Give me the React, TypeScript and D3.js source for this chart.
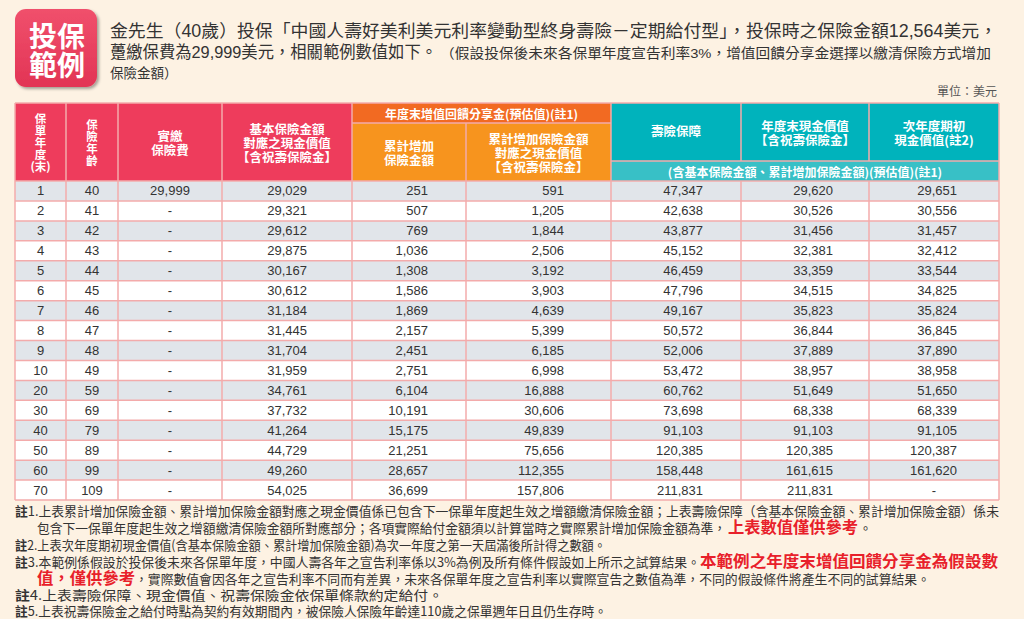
import React from "react";
import * as d3 from "d3";

// ---------- data ----------
const policyYears = [1, 2, 3, 4, 5, 6, 7, 8, 9, 10, 20, 30, 40, 50, 60, 70];
const ages = [40, 41, 42, 43, 44, 45, 46, 47, 48, 49, 59, 69, 79, 89, 99, 109];
const premiums: (number | null)[] = [29999, null, null, null, null, null, null, null, null, null, null, null, null, null, null, null];
const basicCashValue = [29029, 29321, 29612, 29875, 30167, 30612, 31184, 31445, 31704, 31959, 34761, 37732, 41264, 44729, 49260, 54025];
const accumAddSum = [251, 507, 769, 1036, 1308, 1586, 1869, 2157, 2451, 2751, 6104, 10191, 15175, 21251, 28657, 36699];
const accumAddCashValue = [591, 1205, 1844, 2506, 3192, 3903, 4639, 5399, 6185, 6998, 16888, 30606, 49839, 75656, 112355, 157806];
const deathBenefit = [47347, 42638, 43877, 45152, 46459, 47796, 49167, 50572, 52006, 53472, 60762, 73698, 91103, 120385, 158448, 211831];
const cashValueEnd = [29620, 30526, 31456, 32381, 33359, 34515, 35823, 36844, 37889, 38957, 51649, 68338, 91103, 120385, 161615, 211831];
const cashValueNext: (number | null)[] = [29651, 30556, 31457, 32412, 33544, 34825, 35824, 36845, 37890, 38958, 51650, 68339, 91105, 120387, 161620, null];

const columns: (number | null)[][] = [
  policyYears, ages, premiums, basicCashValue, accumAddSum, accumAddCashValue,
  deathBenefit, cashValueEnd, cashValueNext,
];
const headerLabels: string[][] = [
  ["保", "單", "年", "度", "(末)"],
  ["保", "險", "年", "齡"],
  ["實繳", "保險費"],
  ["基本保險金額", "對應之現金價值", "【含祝壽保險金】"],
  ["累計增加", "保險金額"],
  ["累計增加保險金額", "對應之現金價值", "【含祝壽保險金】"],
  ["壽險保障"],
  ["年度末現金價值", "【含祝壽保險金】"],
  ["次年度期初", "現金價值(註2)"],
];
const groupOrangeLabel = "年度末增值回饋分享金(預估值)(註1)";
const groupTealLabel = "(含基本保險金額、累計增加保險金額)(預估值)(註1)";

const titleLine1 = "金先生（40歲）投保「中國人壽好美利美元利率變動型終身壽險－定期給付型」，投保時之保險金額12,564美元，";
const titleLine2a = "躉繳保費為29,999美元，相關範例數值如下。";
const titleLine2b = "（假設投保後未來各保單年度宣告利率3%，增值回饋分享金選擇以繳清保險方式增加";
const titleLine3 = "保險金額）";
const unitLabel = "單位：美元";

// ---------- layout ----------
const W = 1024;
const H = 619;
const colEdges = [15, 66, 118, 222, 352, 466, 611, 741, 869, 999];
const rightPad = [0, 0, 0, 45, 38, 47, 38, 36, 42];
const alignCenter = [true, true, true, false, false, false, false, false, false];
const headTop = 103;
const orangeSplit = 123;
const tealSplit = 161;
const headBottom = 181;
const tableBottom = 500;

const RED = "#EE3C5C";
const ORANGE_DARK = "#F26A22";
const ORANGE = "#F7941E";
const TEAL = "#00B3BC";
const TEAL_LIGHT = "#38C0C6";
const GRID = "#F3ABAB";
const ROW_GRAY = "#E1E5EA";
const BG = "#FDF2E3";
const TXT = "#333";
const NOTE_RED = "#E8202A";

const FONT = "'Liberation Sans', 'Noto Sans CJK TC', sans-serif";
const CJK = "'Noto Sans CJK TC', 'Liberation Sans', sans-serif";

const fmt = d3.format(",");

export default function App() {
  const rowIdx = d3.range(policyYears.length);
  const y = d3.scaleBand<number>().domain(rowIdx).range([headBottom, tableBottom]);
  const colIdx = d3.range(columns.length);
  const xL = (i: number) => colEdges[i];
  const xR = (i: number) => colEdges[i + 1];
  const xC = (i: number) => (colEdges[i] + colEdges[i + 1]) / 2;

  const headerFill = (i: number) => (i <= 3 ? RED : i <= 5 ? ORANGE : TEAL);
  const headerLineY = (i: number, n: number, k: number) => {
    const top = i === 4 || i === 5 ? orangeSplit : headTop;
    const bot = i >= 6 ? tealSplit : headBottom;
    const lh = i <= 1 ? 12.2 : 14;
    const mid = (top + bot) / 2 + (i === 6 ? -2 : 0);
    return mid + (k - (n - 1) / 2) * lh;
  };

  const noteFs = 13;
  return (
    <svg width={W} height={H} style={{ position: "absolute", left: 0, top: 0 }} fontFamily={FONT}>
      <defs>
        <filter id="sh" x="-20%" y="-20%" width="140%" height="140%">
          <feDropShadow dx="2" dy="2" stdDeviation="1.5" floodColor="#000" floodOpacity="0.35" />
        </filter>
        <linearGradient id="ig" x1="0" y1="0" x2="0" y2="1">
          <stop offset="0" stopColor="#F0506C" />
          <stop offset="1" stopColor="#E23455" />
        </linearGradient>
      </defs>
      <rect width={W} height={H} fill={BG} />

      {/* icon */}
      <rect x={15} y={9} width={82} height={78} rx={11} fill="url(#ig)" filter="url(#sh)" />
      <text x={57} y={35} fontSize={28} fontWeight={700} fill="#fff" textAnchor="middle" dominantBaseline="central" fontFamily={CJK}>投保</text>
      <text x={57} y={64} fontSize={28} fontWeight={700} fill="#fff" textAnchor="middle" dominantBaseline="central" fontFamily={CJK}>範例</text>

      {/* title */}
      <g fill={TXT}>
        <text x={110} y={31} fontSize={17.5} dominantBaseline="central" textLength={887} lengthAdjust="spacingAndGlyphs">{titleLine1}</text>
        <text x={110} y={52} fontSize={17} dominantBaseline="central" textLength={327} lengthAdjust="spacingAndGlyphs">{titleLine2a}</text>
        <text x={440} y={53} fontSize={13.5} dominantBaseline="central" textLength={551} lengthAdjust="spacingAndGlyphs">{titleLine2b}</text>
        <text x={110} y={73} fontSize={13.5} dominantBaseline="central">{titleLine3}</text>
        <text x={997} y={92} fontSize={12} fill="#555" textAnchor="end" dominantBaseline="central">{unitLabel}</text>
      </g>

      {/* header backgrounds */}
      {colIdx.map((i) => (
        <rect key={"hb" + i} x={xL(i)} y={headTop} width={xR(i) - xL(i)} height={headBottom - headTop} fill={headerFill(i)} />
      ))}
      <rect x={xL(4)} y={headTop} width={xR(5) - xL(4)} height={orangeSplit - headTop} fill={ORANGE_DARK} />
      <rect x={xL(6)} y={tealSplit} width={xR(8) - xL(6)} height={headBottom - tealSplit} fill={TEAL_LIGHT} />

      {/* body rows */}
      {rowIdx.map((r) => (
        <rect key={"rb" + r} x={colEdges[0]} y={y(r)!} width={colEdges[9] - colEdges[0]} height={y.bandwidth()} fill={r % 2 === 0 ? ROW_GRAY : "#fff"} />
      ))}

      {/* grid lines */}
      <g stroke={GRID} strokeWidth={1.5} fill="none">
        {colEdges.map((x, i) => {
          const segs: [number, number][] = [];
          if (i === 7 || i === 8) {
            segs.push([headTop, tealSplit]);
            segs.push([headBottom, tableBottom]);
          } else if (i === 5) segs.push([orangeSplit, tableBottom]);
          else segs.push([headTop, tableBottom]);
          return segs.map((s, k) => <line key={"v" + i + "_" + k} x1={x} x2={x} y1={s[0]} y2={s[1]} />);
        })}
        <line x1={xL(4)} x2={xR(5)} y1={orangeSplit} y2={orangeSplit} />
        <line x1={xL(6)} x2={xR(8)} y1={tealSplit} y2={tealSplit} />
        <line x1={colEdges[0]} x2={colEdges[9]} y1={headTop} y2={headTop} />
        {rowIdx.map((r) => (
          <line key={"h" + r} x1={colEdges[0]} x2={colEdges[9]} y1={y(r)!} y2={y(r)!} />
        ))}
        <line x1={colEdges[0]} x2={colEdges[9]} y1={tableBottom} y2={tableBottom} />
      </g>

      {/* header text */}
      <g fill="#fff" fontFamily={CJK} fontWeight={700} fontSize={12.5} textAnchor="middle" dominantBaseline="central">
        {colIdx.map((i) =>
          headerLabels[i].map((t, k) => (
            <text key={"ht" + i + k} x={xC(i)} y={headerLineY(i, headerLabels[i].length, k)} fontSize={i <= 1 ? 11.5 : 12.5}>{t}</text>
          ))
        )}
        <text x={(xL(4) + xR(5)) / 2} y={(headTop + orangeSplit) / 2} fontSize={12}>{groupOrangeLabel}</text>
        <text x={(xL(6) + xR(8)) / 2} y={(tealSplit + headBottom) / 2} fontSize={12}>{groupTealLabel}</text>
      </g>

      {/* body text */}
      <g fill={TXT} fontSize={13} dominantBaseline="central">
        {columns.map((col, c) =>
          col.map((v, r) => {
            const cy = y(r)! + y.bandwidth() / 2;
            if (v === null)
              return <text key={c + "_" + r} x={xC(c)} y={cy} textAnchor="middle">-</text>;
            const s = c <= 1 ? String(v) : fmt(v);
            return alignCenter[c] ? (
              <text key={c + "_" + r} x={xC(c)} y={cy} textAnchor="middle">{s}</text>
            ) : (
              <text key={c + "_" + r} x={xR(c) - rightPad[c]} y={cy} textAnchor="end">{s}</text>
            );
          })
        )}
      </g>

      {/* notes */}
      <g fill={TXT} fontSize={noteFs} dominantBaseline="central" fontFamily={CJK}>
        <text x={15} y={510} textLength={984} lengthAdjust="spacingAndGlyphs">
          <tspan fontWeight={700}>註</tspan>1.上表累計增加保險金額、累計增加保險金額對應之現金價值係已包含下一保單年度起生效之增額繳清保險金額；上表壽險保障（含基本保險金額、累計增加保險金額）係未
        </text>
        <text x={37} y={527} textLength={689} lengthAdjust="spacingAndGlyphs">包含下一保單年度起生效之增額繳清保險金額所對應部分；各項實際給付金額須以計算當時之實際累計增加保險金額為準，</text>
        <text x={728} y={526} fontSize={16} fontWeight={700} fill={NOTE_RED} textLength={130} lengthAdjust="spacingAndGlyphs">上表數值僅供參考</text>
        <text x={859} y={527}>。</text>
        <text x={15} y={544} textLength={591} lengthAdjust="spacingAndGlyphs">
          <tspan fontWeight={700}>註</tspan>2.上表次年度期初現金價值(含基本保險金額、累計增加保險金額)為次一年度之第一天屆滿後所計得之數額。
        </text>
        <text x={15} y={561} textLength={685} lengthAdjust="spacingAndGlyphs">
          <tspan fontWeight={700}>註</tspan>3.本範例係假設於投保後未來各保單年度，中國人壽各年之宣告利率係以3%為例及所有條件假設如上所示之試算結果。
        </text>
        <text x={700} y={560} fontSize={16} fontWeight={700} fill={NOTE_RED} textLength={298} lengthAdjust="spacingAndGlyphs">本範例之年度末增值回饋分享金為假設數</text>
        <text x={37} y={577} fontSize={16} fontWeight={700} fill={NOTE_RED} textLength={98} lengthAdjust="spacingAndGlyphs">值，僅供參考</text>
        <text x={135} y={578} textLength={795} lengthAdjust="spacingAndGlyphs">，實際數值會因各年之宣告利率不同而有差異，未來各保單年度之宣告利率以實際宣告之數值為準，不同的假設條件將產生不同的試算結果。</text>
        <text x={15} y={594} textLength={428} lengthAdjust="spacingAndGlyphs">
          <tspan fontWeight={700}>註</tspan>4.上表壽險保障、現金價值、祝壽保險金依保單條款約定給付。
        </text>
        <text x={15} y={610} textLength={592} lengthAdjust="spacingAndGlyphs">
          <tspan fontWeight={700}>註</tspan>5.上表祝壽保險金之給付時點為契約有效期間內，被保險人保險年齡達110歲之保單週年日且仍生存時。
        </text>
      </g>
    </svg>
  );
}
